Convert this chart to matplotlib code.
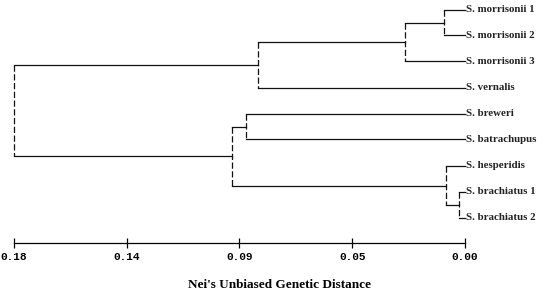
import matplotlib.pyplot as plt

# leaves, top to bottom
taxa = ["S. morrisonii 1", "S. morrisonii 2", "S. morrisonii 3", "S. vernalis",
        "S. breweri", "S. batrachupus", "S. hesperidis", "S. brachiatus 1",
        "S. brachiatus 2"]
leaf_y = [10, 35, 61, 88, 114, 139, 166, 192, 218]

# internal nodes: (name, height, child a, child b)
nodes = [
    ("m12", 0.0084, "S. morrisonii 1", "S. morrisonii 2"),
    ("morr", 0.024, "m12", "S. morrisonii 3"),
    ("upper", 0.0826, "morr", "S. vernalis"),
    ("bb", 0.0874, "S. breweri", "S. batrachupus"),
    ("brach", 0.0024, "S. brachiatus 1", "S. brachiatus 2"),
    ("hb", 0.0076, "S. hesperidis", "brach"),
    ("lower", 0.093, "bb", "hb"),
    ("root", 0.18, "upper", "lower"),
]

tick_pos = [0.18, 0.135, 0.09, 0.045, 0.0]
tick_lab = ["0.18", "0.14", "0.09", "0.05", "0.00"]

fig = plt.figure(figsize=(5.49, 2.95), dpi=100)
ax = fig.add_axes([0, 0, 1, 1])
ax.set_xlim(465 / 2506, -84 / 2506)
ax.set_ylim(295, 0)

pos = {t: (0.0, y) for t, y in zip(taxa, leaf_y)}
for name, h, a, b in nodes:
    ya = pos[a][1]
    yb = pos[b][1]
    ax.plot([h, h], [ya, yb], color="#111111", lw=0.9, ls=(0, (5, 2)))
    ax.plot([h, pos[a][0]], [ya, ya], color="#111111", lw=0.9)
    ax.plot([h, pos[b][0]], [yb, yb], color="#111111", lw=0.9)
    pos[name] = (h, (ya + yb) / 2)

for t, y in zip(taxa, leaf_y):
    ax.text(-0.0004, y, t, ha="left", va="center", fontsize=7.8,
            family="Liberation Serif", weight="bold", color="#222222")

# scale bar as the x axis
for s in ["top", "right", "left"]:
    ax.spines[s].set_visible(False)
ax.spines["bottom"].set_position(("data", 243))
ax.spines["bottom"].set_bounds(0.18, 0.0)
ax.spines["bottom"].set_linewidth(0.9)
ax.set_yticks([])
ax.set_xticks(tick_pos)
ax.set_xticklabels(tick_lab, family="Liberation Mono", fontsize=8, weight="bold")
ax.tick_params(axis="x", direction="inout", length=7, width=0.9, pad=3)

fig.text(0.51, 1 - 285 / 295, "Nei's Unbiased Genetic Distance", ha="center",
         va="center", family="Liberation Serif", weight="bold", fontsize=9.5)

fig.savefig("out.png", dpi=100, facecolor="white")
